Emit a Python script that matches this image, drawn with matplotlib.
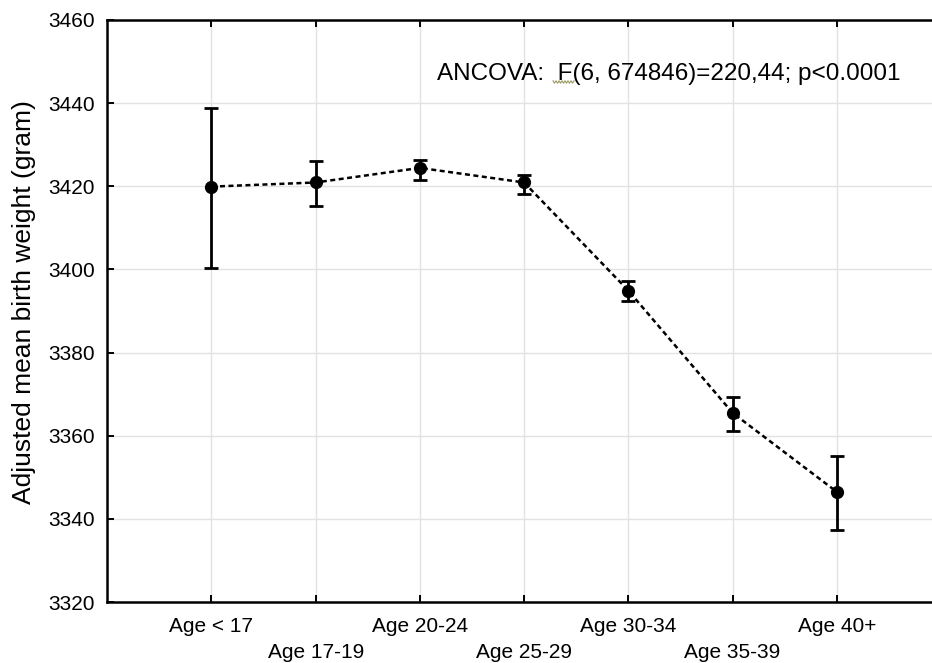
import matplotlib
matplotlib.use("Agg")
import matplotlib.pyplot as plt
from matplotlib.lines import Line2D
import numpy as np

plt.rcParams['font.family'] = ['Liberation Sans', 'DejaVu Sans']

# values
age_groups = ['Age < 17', 'Age 17-19', 'Age 20-24', 'Age 25-29', 'Age 30-34', 'Age 35-39', 'Age 40+']
mean_bw = [3419.9, 3420.9, 3424.4, 3420.9, 3394.9, 3365.5, 3346.5]
ci_upper = [3438.8, 3426.1, 3426.3, 3422.7, 3397.3, 3369.3, 3355.2]
ci_lower = [3400.3, 3415.3, 3421.5, 3418.1, 3392.4, 3361.2, 3337.3]
y_ticks = [3320, 3340, 3360, 3380, 3400, 3420, 3440, 3460]
stats_text = 'ANCOVA:  F(6, 674846)=220,44; p<0.0001'

x = np.arange(len(age_groups))
mean_bw = np.array(mean_bw)
yerr = np.array([mean_bw - np.array(ci_lower), np.array(ci_upper) - mean_bw])

fig = plt.figure(figsize=(9.32, 6.63), dpi=100)
# right edge of the frame is cut off in the reference, so let the axes run past the figure
ax = fig.add_axes([0.1151, 0.092, 0.8945, 0.878])

ax.grid(True, color='#e2e2e2', linewidth=1.0, zorder=0)
ax.set_axisbelow(True)

ax.plot(x, mean_bw, color='black', linestyle=(0, (2.0, 1.4)), linewidth=1.8, zorder=2)
ax.errorbar(x, mean_bw, yerr=yerr, fmt='o', color='black', markersize=8.5,
            elinewidth=2.0, capsize=5, capthick=2.0, zorder=3)

ax.set_xlim(-1, 7)
ax.set_ylim(3320, 3460)
ax.set_yticks(y_ticks)
ax.set_xticks(x)
# alternate the category labels on two rows like the reference
ax.set_xticklabels([lab if i % 2 == 0 else '\n' + lab for i, lab in enumerate(age_groups)])
for t in ax.get_xticklabels():
    t.set_linespacing(1.45)

ax.tick_params(axis='both', direction='in', length=5, width=1.4,
               top=True, right=True, labelsize=15)
ax.tick_params(axis='x', pad=11)
ax.tick_params(axis='y', pad=9)

for sp in ax.spines.values():
    sp.set_linewidth(1.8)

ax.set_ylabel('Adjusted mean birth weight (gram)', fontsize=19)
ax.yaxis.set_label_coords(-0.085, 0.515)

ax.text(437, 663 - 80, stats_text, transform=None, fontsize=17.5, ha='left', va='baseline')

# spell-check squiggle under the "F", as in the reference screenshot
sq_x = np.linspace(553, 574, 15)
sq_y = 663 - 82 + 1.2 * np.where(np.arange(15) % 2 == 0, 1, -1)
fig.add_artist(Line2D(sq_x, sq_y, transform=None, color='#9a9a60', linewidth=0.8))

fig.savefig('out.png', dpi=100)
